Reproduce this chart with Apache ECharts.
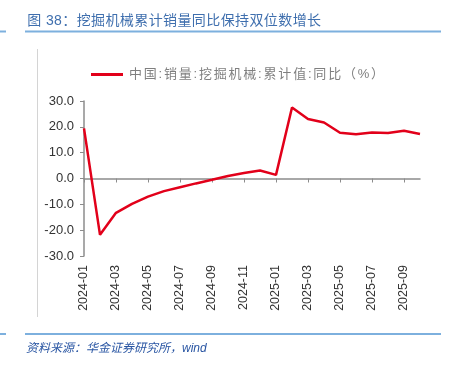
<!DOCTYPE html>
<html>
<head>
<meta charset="utf-8">
<script src="https://cdn.jsdelivr.net/npm/echarts@6/dist/echarts.min.js"></script>
<style>html,body{margin:0;padding:0;background:#fff;}#c{width:456px;height:365px;}</style>
</head>
<body>
<div id="c"></div>
<script>
const months = ['2024-01','2024-02','2024-03','2024-04','2024-05','2024-06','2024-07','2024-08','2024-09','2024-10','2024-11','2024-12',
  '2025-01','2025-02','2025-03','2025-04','2025-05','2025-06','2025-07','2025-08','2025-09','2025-10'];
const yoy = [19.4,-21.8,-13.3,-9.8,-7.0,-4.9,-3.4,-1.9,-0.5,1.0,2.1,3.1,
  1.4,27.5,23.0,21.7,17.7,17.1,17.8,17.6,18.5,17.2];
const seriesName = '中国:销量:挖掘机械:累计值:同比（%）';
const titleText = '图 38：挖掘机械累计销量同比保持双位数增长';
const sourceText = '资料来源：华金证券研究所，wind';

const chart = echarts.init(document.getElementById('c'), null, {renderer:'canvas'});
const cjk = '"Liberation Sans", "Noto Sans CJK SC", sans-serif';
const spaced = s => s.split('').map(c => '{s|' + c + '}').join('');
chart.setOption({
  animation: false,
  title: {
    text: spaced(titleText), left: 22, top: 9,
    textStyle: {fontSize: 14, fontWeight: 'normal', color: '#3f6fae', fontFamily: cjk,
      rich: {s: {fontSize: 14, color: '#3f6fae', fontFamily: cjk, padding: [0, 0.2, 0, 0.2]}}}
  },
  legend: {
    left: 86, top: 63, icon: 'rect', itemWidth: 32, itemHeight: 3, itemGap: 6,
    formatter: name => spaced(name),
    textStyle: {fontSize: 13, color: '#7f7f7f', fontFamily: cjk,
      rich: {s: {fontSize: 13, color: '#7f7f7f', fontFamily: cjk, padding: [0, 0.9, 0, 0.9]}}}
  },
  grid: {left: 84, right: 36, top: 101, bottom: 109},
  xAxis: [{
    type: 'category', data: months, boundaryGap: false,
    axisLine: {onZero: true, lineStyle: {color: '#8c8c8c', width: 1.5}},
    axisTick: {interval: 1, length: 4, lineStyle: {color: '#8c8c8c'}},
    axisLabel: {show: false}, splitLine: {show: false}
  }, {
    type: 'category', data: months, boundaryGap: false, position: 'bottom',
    axisLine: {show: false, onZero: false}, axisTick: {show: false},
    axisLabel: {interval: 1, rotate: 90, margin: 9, fontSize: 12.5, color: '#333', fontFamily: cjk},
    splitLine: {show: false}
  }],
  yAxis: {
    type: 'value', min: -30, max: 30, interval: 10,
    axisLine: {show: true, lineStyle: {color: '#8c8c8c', width: 1.5}},
    axisTick: {show: true, length: 4, lineStyle: {color: '#8c8c8c'}},
    axisLabel: {formatter: v => v.toFixed(1), fontSize: 13, color: '#333', margin: 10, fontFamily: cjk},
    splitLine: {show: false}
  },
  series: [{
    name: seriesName, type: 'line', data: yoy, xAxisIndex: 0,
    showSymbol: false, symbol: 'none',
    lineStyle: {color: '#e2001a', width: 2.5}, itemStyle: {color: '#e2001a'}
  }],
  graphic: [
    {type: 'line', shape: {x1: 0, y1: 31.5, x2: 6, y2: 31.5}, style: {stroke: '#7db0de', lineWidth: 2}},
    {type: 'line', shape: {x1: 25, y1: 31.5, x2: 441, y2: 31.5}, style: {stroke: '#7db0de', lineWidth: 2}},
    {type: 'line', shape: {x1: 0, y1: 334, x2: 6, y2: 334}, style: {stroke: '#7db0de', lineWidth: 2}},
    {type: 'line', shape: {x1: 25, y1: 334, x2: 441, y2: 334}, style: {stroke: '#7db0de', lineWidth: 2}},
    {type: 'line', shape: {x1: 37.5, y1: 49, x2: 37.5, y2: 317}, style: {stroke: '#d4d4d4', lineWidth: 1}},
    {type: 'text', left: 26, top: 343, style: {text: sourceText, fill: '#2a56a3', font: 'italic 12px "Liberation Sans", "Noto Sans CJK SC", sans-serif'}}
  ]
});
</script>
</body>
</html>
